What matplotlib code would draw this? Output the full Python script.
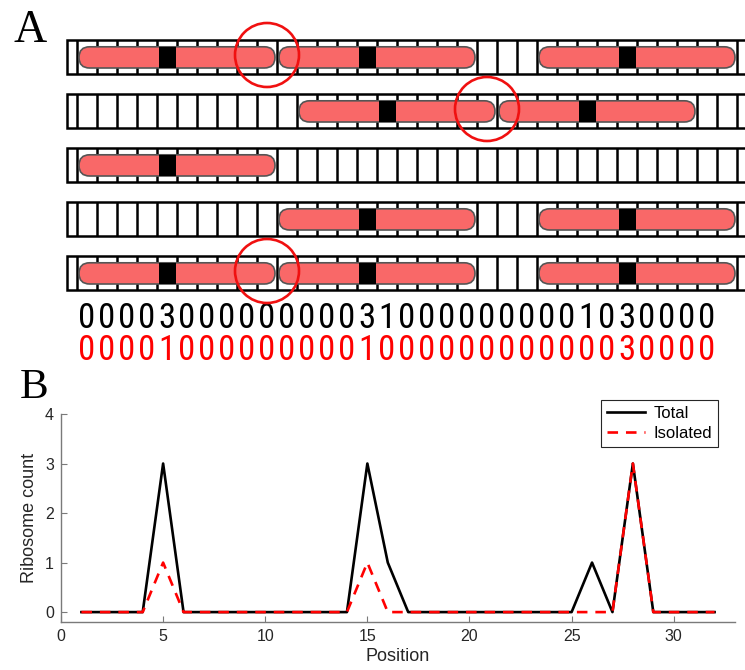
import numpy as np
import matplotlib
matplotlib.use('Agg')
import matplotlib.pyplot as plt
from matplotlib.patches import FancyBboxPatch, Rectangle, Circle

# ---- data ----
positions = np.arange(1, 33)
total = [0, 0, 0, 0, 3, 0, 0, 0, 0, 0, 0, 0, 0, 0, 3, 1,
         0, 0, 0, 0, 0, 0, 0, 0, 0, 1, 0, 3, 0, 0, 0, 0]
isolated = [0, 0, 0, 0, 1, 0, 0, 0, 0, 0, 0, 0, 0, 0, 1, 0,
            0, 0, 0, 0, 0, 0, 0, 0, 0, 0, 0, 3, 0, 0, 0, 0]
# A-site positions of ribosomes on each mRNA lattice
rows_asite = [[5, 15, 28], [16, 26], [5], [15, 28], [5, 15, 28]]
rib_len = 10          # ribosome footprint (cells)
asite_off = 4         # cells upstream of A-site
n_cells = 35

digit_font = ['Roboto Condensed', 'Liberation Sans Narrow', 'Roboto', 'DejaVu Sans']
sans = ['Liberation Sans', 'DejaVu Sans']

fig = plt.figure(figsize=(7.45, 6.70), dpi=100)

# ---------------- panel A ----------------
axA = fig.add_axes([0, 300/670, 1, 370/670])
axA.set_xlim(-3.35, 33.9)
axA.set_ylim(18.5, 0)
axA.set_aspect('equal')
axA.axis('off')

row_y0 = 2.87
row_dy = 2.7
row_h = 1.7
rib_h = 1.06

for k, sites in enumerate(rows_asite):
    yc = row_y0 + row_dy*k
    # lattice
    axA.add_patch(Rectangle((0, yc - row_h/2), n_cells, row_h, fc='white',
                            ec='black', lw=1.8, zorder=1))
    for c in range(n_cells):
        axA.plot([c + 0.5, c + 0.5], [yc - row_h/2, yc + row_h/2], color='black',
                 lw=1.8, zorder=2, solid_capstyle='butt')
    # ribosomes
    for p in sites:
        x0 = p - asite_off - 0.4
        axA.add_patch(FancyBboxPatch((x0, yc - rib_h/2), rib_len - 0.2, rib_h,
                                     boxstyle='round,pad=0,rounding_size=0.53',
                                     fc='#F96868', ec='#555555', lw=1.2, zorder=3))
        axA.add_patch(Rectangle((p - 0.42, yc - rib_h/2), 0.87, rib_h,
                                fc='black', ec='none', zorder=4))
    # collisions: neighbours exactly one footprint apart
    for p1, p2 in zip(sites[:-1], sites[1:]):
        if p2 - p1 == rib_len:
            axA.add_patch(Circle((p1 + rib_len - asite_off - 1, yc - 0.12), 1.6,
                                 fill=False, ec='#F01010', lw=1.9, zorder=5))

# count strings under the lattices
for i, (t, s) in enumerate(zip(total, isolated)):
    axA.text(positions[i], 15.9, str(t), ha='center', va='center', fontsize=25,
             color='black', family=digit_font)
    axA.text(positions[i], 17.5, str(s), ha='center', va='center', fontsize=25,
             color='red', family=digit_font)

fig.text(14/745, 1 - 42/670, 'A', fontsize=33, family='Liberation Serif',
         ha='left', va='baseline')
fig.text(20/745, 1 - 398/670, 'B', fontsize=31, family='Liberation Serif',
         ha='left', va='baseline')

# ---------------- panel B ----------------
axB = fig.add_axes([61/745, 48/670, 674/745, 208/670])
axB.plot(positions, total, color='black', lw=1.9, label='Total')
axB.plot(positions, isolated, color='red', lw=1.9, ls=(0, (4, 3)), label='Isolated')
axB.set_xlim(0, 33)
axB.set_ylim(-0.2, 4)
axB.set_xticks([0, 5, 10, 15, 20, 25, 30])
axB.set_yticks([0, 1, 2, 3, 4])
for side in ['top', 'right']:
    axB.spines[side].set_visible(False)
for side in ['left', 'bottom']:
    axB.spines[side].set_color('#7a7a7a')
    axB.spines[side].set_linewidth(1.0)
axB.tick_params(direction='in', length=4, color='#7a7a7a', labelcolor='#262626',
                labelsize=11.5, pad=5)
for lab in axB.get_xticklabels() + axB.get_yticklabels():
    lab.set_family(sans)
axB.set_xlabel('Position', fontsize=13, family=sans, color='#262626', labelpad=3)
axB.set_ylabel('Ribosome count', fontsize=13, family=sans, color='#262626',
               labelpad=5)
leg = axB.legend(loc='upper right', bbox_to_anchor=(0.975, 1.067), fancybox=False,
                 framealpha=1, edgecolor='#262626', prop={'family': sans, 'size': 12},
                 handlelength=2.3, borderpad=0.35, labelspacing=0.3,
                 handletextpad=0.5, borderaxespad=0)
leg.get_frame().set_linewidth(0.8)

fig.savefig('out.png', dpi=100)
